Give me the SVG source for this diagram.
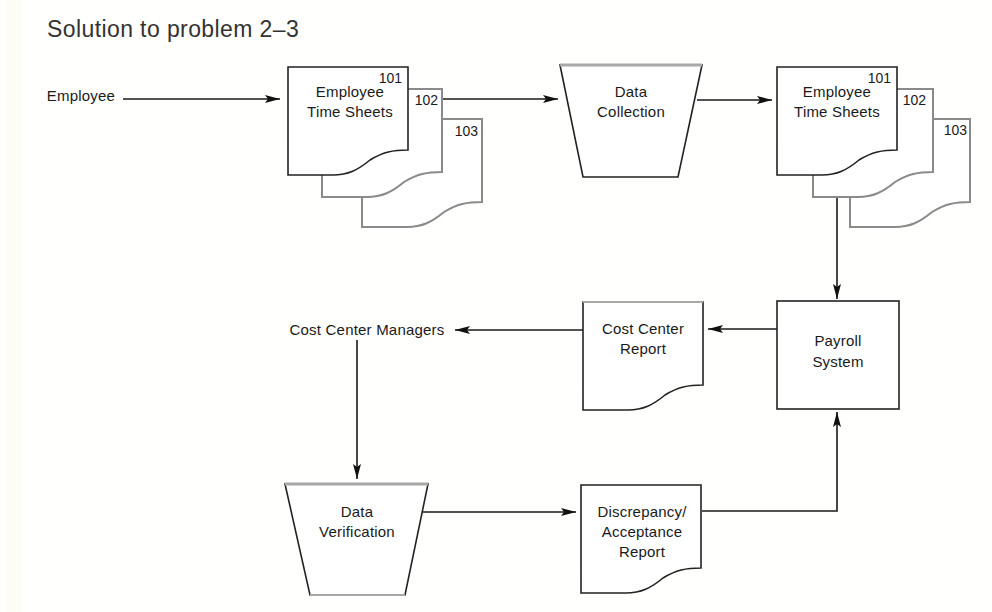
<svg xmlns="http://www.w3.org/2000/svg" width="992" height="612" viewBox="0 0 992 612">
  <defs>
    <style>
      .lbl { font-family: "Liberation Sans", Arial, sans-serif; font-size: 15px; fill: #1a1a1a; text-anchor: middle; letter-spacing: 0.2px; }
      .num { font-family: "Liberation Sans", Arial, sans-serif; font-size: 14px; fill: #1a1a1a; text-anchor: end; }
      .title { font-family: "Liberation Sans", Arial, sans-serif; font-size: 23px; fill: #333; }
      .front { fill: #fff; stroke: #222; stroke-width: 1.6; }
      .back { fill: #fff; stroke: #8a8a8a; stroke-width: 2; }
      .box { fill: #fff; stroke: #222; stroke-width: 1.6; }
      .rim { fill: none; stroke: #a8a8a8; stroke-width: 3; }
      .wire { fill: none; stroke: #1a1a1a; stroke-width: 1.6; }
    </style>
    <!-- document sheet: 120 wide, 108 tall, wavy bottom edge -->
    <path id="sheet" d="M0,0 H120 V83 C105,83 95,85 82,93 C70,103 60,108 45,108 H0 Z"/>
    <marker id="arrow" viewBox="0 0 15 10" refX="15" refY="5" markerWidth="15" markerHeight="10" markerUnits="userSpaceOnUse" orient="auto">
      <path d="M0,1 L15,5 L0,9 L3,5 Z" fill="#111"/>
    </marker>
  </defs>

  <rect width="992" height="612" fill="#fffffd"/>
  <rect x="6" y="0" width="16" height="612" fill="#fdfdf6"/>

  <text class="title" x="47" y="37" letter-spacing="0.4">Solution to problem 2–3</text>

  <!-- connectors -->
  <g id="connectors">
    <line class="wire" x1="123" y1="99" x2="280" y2="99" marker-end="url(#arrow)"/>
    <line class="wire" x1="443" y1="99" x2="558" y2="99" marker-end="url(#arrow)"/>
    <line class="wire" x1="697" y1="100" x2="772" y2="100" marker-end="url(#arrow)"/>
    <line class="wire" x1="837" y1="197" x2="837" y2="299" marker-end="url(#arrow)"/>
    <line class="wire" x1="777" y1="329" x2="708" y2="329" marker-end="url(#arrow)"/>
    <line class="wire" x1="583" y1="330" x2="455" y2="330" marker-end="url(#arrow)"/>
    <line class="wire" x1="357" y1="340" x2="357" y2="479" marker-end="url(#arrow)"/>
    <line class="wire" x1="423" y1="512" x2="576" y2="512" marker-end="url(#arrow)"/>
    <polyline class="wire" points="702,511 837,511 837,412" marker-end="url(#arrow)"/>
  </g>

  <g id="employee">
    <text class="lbl" x="81" y="101">Employee</text>
  </g>

  <!-- first stack of time sheets -->
  <g id="timesheets-in">
    <use href="#sheet" class="back" x="362" y="119"/>
    <use href="#sheet" class="back" x="322" y="89"/>
    <use href="#sheet" class="front" x="288" y="67"/>
    <text class="num" x="402" y="83">101</text>
    <text class="num" x="438" y="105">102</text>
    <text class="num" x="478" y="136">103</text>
    <text class="lbl" x="350" y="97">Employee</text>
    <text class="lbl" x="350" y="117">Time Sheets</text>
  </g>

  <g id="data-collection">
    <polygon class="box" points="560,65 702,65 678,177 583,177"/>
    <line class="rim" x1="560" y1="65" x2="702" y2="65"/>
    <text class="lbl" x="631" y="97">Data</text>
    <text class="lbl" x="631" y="117">Collection</text>
  </g>

  <!-- second stack of time sheets -->
  <g id="timesheets-out">
    <use href="#sheet" class="back" x="850" y="119"/>
    <use href="#sheet" class="back" x="813" y="89"/>
    <use href="#sheet" class="front" x="777" y="67"/>
    <text class="num" x="891" y="83">101</text>
    <text class="num" x="926" y="105">102</text>
    <text class="num" x="967" y="135">103</text>
    <text class="lbl" x="837" y="97">Employee</text>
    <text class="lbl" x="837" y="117">Time Sheets</text>
  </g>

  <g id="payroll-system">
    <rect class="box" x="777" y="301" width="122" height="108"/>
    <text class="lbl" x="838" y="346">Payroll</text>
    <text class="lbl" x="838" y="367">System</text>
  </g>

  <g id="cost-center-report">
    <use href="#sheet" class="front" x="583" y="302"/>
    <line class="rim" x1="583" y1="302" x2="703" y2="302" style="stroke-width:2"/>
    <text class="lbl" x="643" y="334">Cost Center</text>
    <text class="lbl" x="643" y="354">Report</text>
  </g>

  <g id="cost-center-managers">
    <text class="lbl" x="367" y="335">Cost Center Managers</text>
  </g>

  <g id="data-verification">
    <polygon class="box" points="285,484 428,484 405,595 310,595"/>
    <line class="rim" x1="285" y1="484" x2="428" y2="484"/>
    <line class="rim" x1="310" y1="595" x2="405" y2="595" style="stroke-width:2"/>
    <text class="lbl" x="357" y="517">Data</text>
    <text class="lbl" x="357" y="537">Verification</text>
  </g>

  <g id="discrepancy-report">
    <use href="#sheet" class="front" x="581" y="485"/>
    <text class="lbl" x="642" y="517">Discrepancy/</text>
    <text class="lbl" x="642" y="537">Acceptance</text>
    <text class="lbl" x="642" y="557">Report</text>
  </g>
</svg>
